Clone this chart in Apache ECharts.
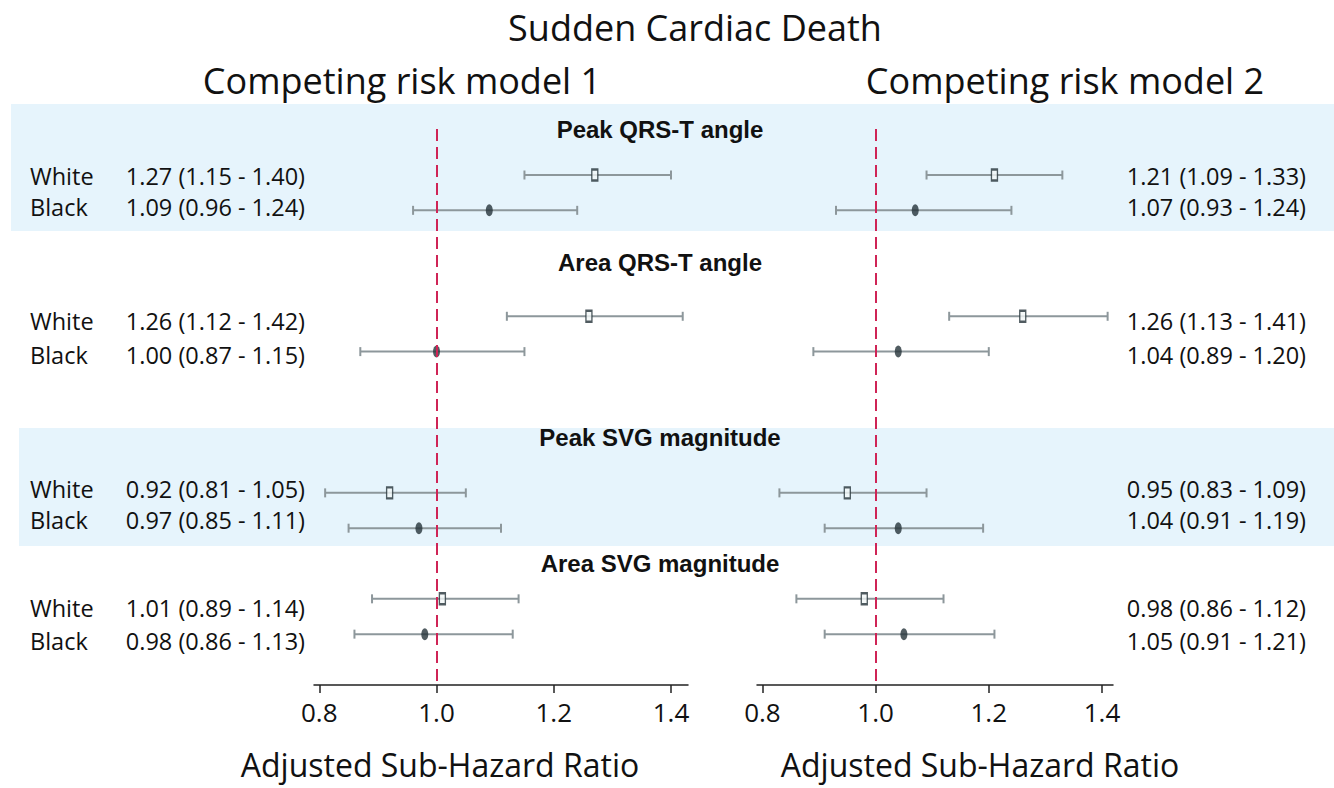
<!DOCTYPE html>
<html>
<head>
<meta charset="utf-8">
<title>Sudden Cardiac Death</title>
<script src="https://cdn.jsdelivr.net/npm/echarts@6/dist/echarts.min.js"></script>
<style>
  html, body { margin: 0; padding: 0; background: #fff; }
  #chart { width: 1334px; height: 788px; }
</style>
</head>
<body>
<div id="chart"></div>
<script>
// rows: each measure has a White row and a Black row
const measures = ['Peak QRS-T angle', 'Area QRS-T angle', 'Peak SVG magnitude', 'Area SVG magnitude']
const races = ['White', 'Black']

// competing risk model 1 (order: measure x race)
const m1Hr = [1.27, 1.09, 1.26, 1.00, 0.92, 0.97, 1.01, 0.98]
const m1Lo = [1.15, 0.96, 1.12, 0.87, 0.81, 0.85, 0.89, 0.86]
const m1Hi = [1.40, 1.24, 1.42, 1.15, 1.05, 1.11, 1.14, 1.13]
// competing risk model 2
const m2Hr = [1.21, 1.07, 1.26, 1.04, 0.95, 1.04, 0.98, 1.05]
const m2Lo = [1.09, 0.93, 1.13, 0.89, 0.83, 0.91, 0.86, 0.91]
const m2Hi = [1.33, 1.24, 1.41, 1.20, 1.09, 1.19, 1.12, 1.21]

const xTicks = [0.8, 1.0, 1.2, 1.4]

// layout: row slot where each measure block starts (empty slots = spacing)
const blockStart = [0, 4, 9, 12]
const slots = []
blockStart.forEach(s => { slots.push(s, s + 1) })
// text rows sit a few px off the marker rows in the original
const labelShift = [1, -3, 5, 3, -4, -8, 9, 7]
const ROW_PX = 35.32
const labelPos = slots.map((s, i) => s + labelShift[i] / ROW_PX)
const rowOf = v => {
  let best = 0
  labelPos.forEach((p, i) => { if (Math.abs(p - v) < Math.abs(labelPos[best] - v)) best = i })
  return best
}

const fmt = v => v.toFixed(2)
const ciText = (hr, lo, hi, i) => `${fmt(hr[i])} (${fmt(lo[i])} - ${fmt(hi[i])})`

const FONT = '"Open Sans", "Noto Sans", sans-serif'
const WHISKER = '#8d979b'
const DARK = '#25333a'
const RED = '#cf2456'

function whiskerData(lo, hi) {
  return slots.map((s, i) => [lo[i], hi[i], s])
}
function pointData(hr, race) {
  return slots.map((s, i) => [hr[i], s]).filter((d, i) => i % 2 === race)
}

function renderWhisker(params, api) {
  const a = api.coord([api.value(0), api.value(2)])
  const b = api.coord([api.value(1), api.value(2)])
  const st = { stroke: WHISKER, lineWidth: 2 }
  return {
    type: 'group',
    children: [
      { type: 'line', shape: { x1: a[0], y1: a[1], x2: b[0], y2: b[1] }, style: st },
      { type: 'line', shape: { x1: a[0], y1: a[1] - 4.5, x2: a[0], y2: a[1] + 4.5 }, style: st },
      { type: 'line', shape: { x1: b[0], y1: b[1] - 4.5, x2: b[0], y2: b[1] + 4.5 }, style: st }
    ]
  }
}

const ellipse = 'path://M0,10A10,10,0,1,1,20,10A10,10,0,1,1,0,10Z'

function xAxisOpt(idx, min, max) {
  return {
    type: 'value', gridIndex: idx, min: min, max: max,
    axisLine: { show: true, onZero: false, lineStyle: { color: '#222', width: 1.5 } },
    axisTick: { show: true, length: 8, customValues: xTicks, lineStyle: { color: '#222', width: 1.5 } },
    axisLabel: { customValues: xTicks, formatter: v => v.toFixed(1), fontSize: 26, color: '#111', fontFamily: FONT, margin: 14 },
    splitLine: { show: false }
  }
}

function yAxisOpt(idx, side, labelFn, rich) {
  return {
    type: 'value', gridIndex: idx, inverse: true, min: -1.303, max: 14.44, position: side,
    axisLine: { show: false }, axisTick: { show: false }, splitLine: { show: false },
    axisLabel: { customValues: labelPos, formatter: v => labelFn(rowOf(v)), rich: rich, margin: side === 'left' ? 9 : 10 }
  }
}

function refLine() {
  return {
    silent: true, symbol: 'none', label: { show: false },
    lineStyle: { color: RED, type: [12, 6], width: 2 },
    data: [{ xAxis: 1.0 }]
  }
}

function panelSeries(idx, hr, lo, hi) {
  return [
    {
      type: 'custom', xAxisIndex: idx, yAxisIndex: idx, z: 2,
      renderItem: renderWhisker, data: whiskerData(lo, hi), encode: { x: [0, 1], y: 2 },
      markLine: refLine()
    },
    {
      name: 'White', type: 'scatter', xAxisIndex: idx, yAxisIndex: idx, z: 4,
      symbol: 'rect', symbolSize: [6, 11],
      itemStyle: { color: '#f3f7f8', borderColor: DARK, borderWidth: 1.8 },
      data: pointData(hr, 0)
    },
    {
      name: 'Black', type: 'scatter', xAxisIndex: idx, yAxisIndex: idx, z: 4,
      symbol: ellipse, symbolSize: [7, 12],
      itemStyle: { color: DARK },
      data: pointData(hr, 1)
    }
  ]
}

const txt = (text, x, y, size, weight, family) => ({
  type: 'text', x: x, y: y, z: 5,
  style: { text: text, fontSize: size, fontWeight: weight || 'normal', fontFamily: family || FONT, fill: '#111', textAlign: 'center', textVerticalAlign: 'middle' }
})

const headerY = [129, 262, 437, 563]
const LBL = { fontSize: 23.5, fontFamily: FONT, color: '#111' }

const option = {
  animation: false,
  grid: [
    { left: 314, top: 129, width: 374, height: 556 },
    { left: 757, top: 129, width: 356, height: 556 }
  ],
  xAxis: [xAxisOpt(0, 0.791, 1.429), xAxisOpt(1, 0.7904, 1.4195)],
  yAxis: [
    yAxisOpt(0, 'left',
      i => `{race|${races[i % 2]}}{ci|${ciText(m1Hr, m1Lo, m1Hi, i)}}`,
      {
        race: Object.assign({ width: 95, align: 'left' }, LBL),
        ci: Object.assign({ width: 180, align: 'right' }, LBL)
      }),
    yAxisOpt(1, 'right',
      i => `{ci|${ciText(m2Hr, m2Lo, m2Hi, i)}}`,
      { ci: Object.assign({ width: 183, align: 'right' }, LBL) })
  ],
  graphic: [
    { type: 'rect', z: -10, shape: { x: 11, y: 104, width: 1323, height: 127 }, style: { fill: '#e6f4fc' } },
    { type: 'rect', z: -10, shape: { x: 19, y: 428, width: 1315, height: 118 }, style: { fill: '#e6f4fc' } },
    txt('Sudden Cardiac Death', 695, 27, 36),
    txt('Competing risk model 1', 402, 80, 36),
    txt('Competing risk model 2', 1065, 80, 36),
    txt('Adjusted Sub-Hazard Ratio', 440, 764, 32),
    txt('Adjusted Sub-Hazard Ratio', 980, 764, 32)
  ].concat(measures.map((m, i) => txt(m, 660, headerY[i], 24, 'bold', '"Liberation Sans", Arial, sans-serif'))),
  series: [].concat(
    panelSeries(0, m1Hr, m1Lo, m1Hi),
    panelSeries(1, m2Hr, m2Lo, m2Hi)
  )
}

const myChart = echarts.init(document.getElementById('chart'), null, { renderer: 'svg' })
myChart.setOption(option)
</script>
</body>
</html>
